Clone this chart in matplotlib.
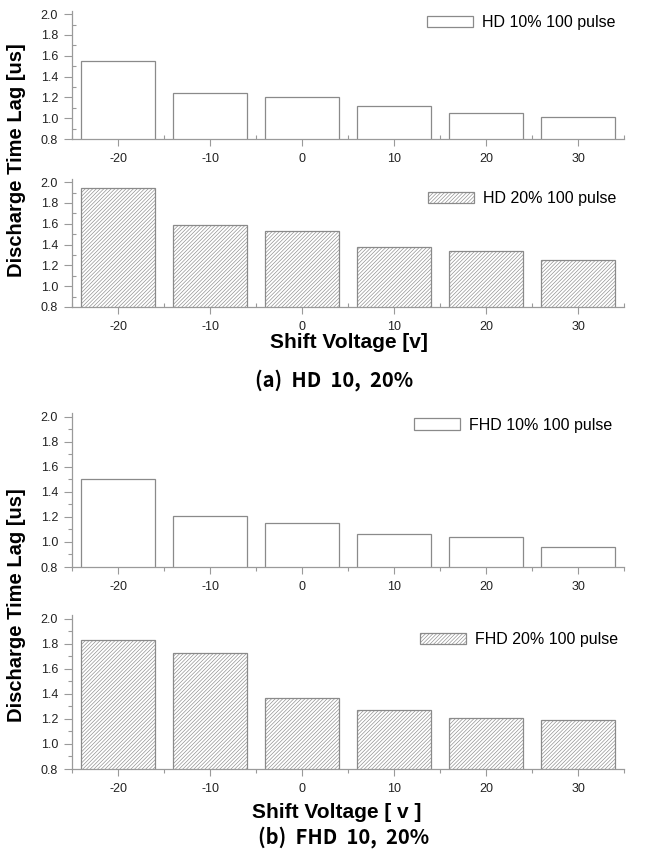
import numpy as np
import matplotlib
matplotlib.use("Agg")
import matplotlib.pyplot as plt
from matplotlib import font_manager
from matplotlib.ticker import FixedLocator, FormatStrFormatter

# discharge time lag [us] vs shift voltage [v]
shift = [-20, -10, 0, 10, 20, 30]
hd10 = [1.55, 1.24, 1.20, 1.12, 1.05, 1.01]
hd20 = [1.94, 1.59, 1.53, 1.38, 1.34, 1.25]
fhd10 = [1.50, 1.21, 1.15, 1.06, 1.04, 0.96]
fhd20 = [1.83, 1.73, 1.37, 1.27, 1.21, 1.19]

labels = ["HD 10% 100 pulse", "HD 20% 100 pulse", "FHD 10% 100 pulse", "FHD 20% 100 pulse"]
xlabels = ["Shift Voltage [v]", "Shift Voltage [ v ]"]
captions = ["(a)  HD  10,  20%", "(b)  FHD  10,  20%"]
ylabel = "Discharge Time Lag [us]"

plt.rcParams["font.family"] = ["Liberation Sans", "DejaVu Sans"]
plt.rcParams["axes.unicode_minus"] = False
plt.rcParams["hatch.linewidth"] = 0.45
plt.rcParams["hatch.color"] = "#9a9a9a"

W, H = 649, 852
fig = plt.figure(figsize=(W / 100, H / 100), dpi=100)

names = {f.name for f in font_manager.fontManager.ttflist}
if "Liberation Sans Narrow" in names:
    yl_font, yl_size = "Liberation Sans Narrow", 17
else:
    yl_font, yl_size = "Liberation Sans", 14.5


def px_axes(left, top, right, bottom):
    return fig.add_axes([left / W, 1 - bottom / H, (right - left) / W, (bottom - top) / H])


def fx(x):
    return x / W


def fy(y):
    return 1 - y / H


GRAY = "#8a8a8a"
HATCH = "/" * 9
# (top, bottom) pixel rows, values, label, hatch, legend anchor, minor tick dir
panels = [
    ((11, 139), hd10, labels[0], None, (427, 22.5), "in"),
    ((179, 307), hd20, labels[1], HATCH, (428, 198.5), "in"),
    ((413, 567), fhd10, labels[2], None, (414, 425), "out"),
    ((615, 769), fhd20, labels[3], HATCH, (420, 639.5), "out"),
]

for (top, bottom), vals, lab, hatch, (lx, ly), mdir in panels:
    ax = px_axes(72, top, 624, bottom)
    ax.bar(shift, vals, width=8, color="white", edgecolor=GRAY, linewidth=0.9,
           hatch=hatch, label=lab)
    ax.set_xlim(-25, 35)
    ax.set_ylim(0.8, 2.03)
    for s in ["top", "right"]:
        ax.spines[s].set_visible(False)
    for s in ["left", "bottom"]:
        ax.spines[s].set_color("#9a9a9a")
        ax.spines[s].set_linewidth(0.9)
    ax.spines["left"].set_bounds(0.8, 2.03)
    ax.set_xticks(shift)
    ax.xaxis.set_minor_locator(FixedLocator(np.arange(-25, 36, 10)))
    ax.set_yticks(np.arange(0.8, 2.01, 0.2))
    ax.yaxis.set_major_formatter(FormatStrFormatter("%.1f"))
    ax.yaxis.set_minor_locator(FixedLocator(np.arange(0.9, 2.01, 0.2)))
    ax.tick_params(axis="both", which="major", direction="out", length=5,
                   width=0.8, color="#9a9a9a", labelsize=9, labelcolor="#222222")
    ax.tick_params(axis="y", which="major", length=6, pad=4)
    ax.tick_params(axis="both", which="minor", direction=mdir, length=3,
                   width=0.8, color="#9a9a9a")
    ax.tick_params(axis="x", which="major", pad=5)
    ax.legend(loc="center left", bbox_to_anchor=(fx(lx), fy(ly)),
              bbox_transform=fig.transFigure, frameon=False, borderpad=0,
              borderaxespad=0, fontsize=11.5, handlelength=2.9, handleheight=0.72,
              handletextpad=0.55)

# axis titles and captions
fig.text(fx(17), fy(160), ylabel, rotation=90, ha="center", va="center",
         fontsize=yl_size, fontweight="bold", family=yl_font)
fig.text(fx(17), fy(605), ylabel, rotation=90, ha="center", va="center",
         fontsize=yl_size, fontweight="bold", family=yl_font)
fig.text(fx(349), fy(343), xlabels[0], ha="center", va="center",
         fontsize=15, fontweight="bold")
fig.text(fx(337), fy(813), xlabels[1], ha="center", va="center",
         fontsize=15, fontweight="bold")
fig.text(fx(334), fy(380), captions[0], ha="center", va="center",
         fontsize=14.5, fontweight="bold", family=["Noto Sans CJK KR", "DejaVu Sans"])
fig.text(fx(344), fy(837), captions[1], ha="center", va="center",
         fontsize=14.5, fontweight="bold", family=["Noto Sans CJK KR", "DejaVu Sans"])

fig.savefig("out.png", dpi=100)
